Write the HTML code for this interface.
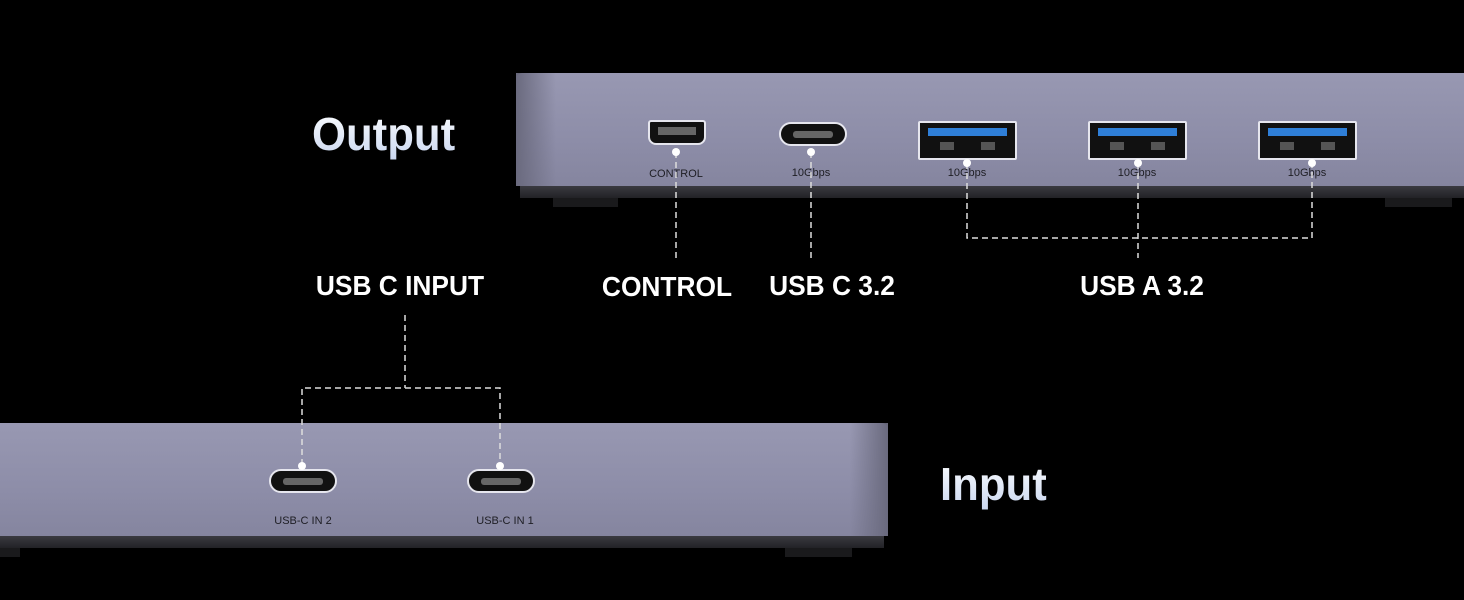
<!DOCTYPE html>
<html><head><meta charset="utf-8"><style>
body{margin:0;width:1464px;height:600px;background:#000;position:relative;overflow:hidden;font-family:"Liberation Sans",sans-serif}
.a{position:absolute}
.face{background:linear-gradient(180deg,#9898b2 0%,#8d8da8 60%,#85859f 100%)}
.base{background:linear-gradient(180deg,#3a3a40,#222226)}
.foot{background:#1a1a1c}
.lbl{color:#fff;font-weight:bold;font-size:28px;transform:translateX(-50%) scaleX(0.94);white-space:nowrap}
.big{font-weight:bold;font-size:46px;background:linear-gradient(180deg,#ffffff,#c9d6f0);-webkit-background-clip:text;color:transparent;transform:scaleX(0.95);transform-origin:left}
.sm{color:#1e1e24;font-size:11px;transform:translateX(-50%);white-space:nowrap}
.uc{background:#111;border:2px solid #e6e6ee;border-radius:13px;box-sizing:border-box}
.uc i{position:absolute;left:12px;right:12px;top:7px;height:7px;background:#666;border-radius:3px}
.ua{background:#111;border:2px solid #e6e6ee;box-sizing:border-box;border-radius:2px}
.ua b{position:absolute;left:8px;right:8px;top:5px;height:8px;background:#2f7fd8}
.ua s,.ua u{position:absolute;top:19px;width:14px;height:8px;background:#555}
.dot{width:8px;height:8px;border-radius:50%;background:#fff;transform:translate(-50%,-50%)}
svg{position:absolute;left:0;top:0}
</style></head><body>
<div class="a face" style="left:516px;top:73px;width:948px;height:113px;border-radius:6px 0 0 0"></div>
<div class="a" style="left:516px;top:73px;width:40px;height:113px;background:linear-gradient(90deg,#6a6a7e,rgba(150,150,170,0))"></div>
<div class="a base" style="left:520px;top:186px;width:944px;height:12px"></div>
<div class="a foot" style="left:553px;top:198px;width:65px;height:9px"></div>
<div class="a foot" style="left:1385px;top:198px;width:67px;height:9px"></div>
<div class="a" style="left:648px;top:120px;width:58px;height:25px;background:#111;border:2px solid #e6e6ee;box-sizing:border-box;border-radius:3px 3px 8px 8px"><i style="position:absolute;left:8px;right:8px;top:5px;height:8px;background:#666"></i></div>
<div class="a uc" style="left:779px;top:122px;width:68px;height:24px"><i></i></div>
<div class="a ua" style="left:918px;top:121px;width:99px;height:39px"><b></b><s style="left:20px"></s><u style="right:20px"></u></div>
<div class="a ua" style="left:1088px;top:121px;width:99px;height:39px"><b></b><s style="left:20px"></s><u style="right:20px"></u></div>
<div class="a ua" style="left:1258px;top:121px;width:99px;height:39px"><b></b><s style="left:20px"></s><u style="right:20px"></u></div>
<div class="a sm" style="left:676px;top:168px">CONTROL</div>
<div class="a sm" style="left:811px;top:167px">10Gbps</div>
<div class="a sm" style="left:967px;top:167px">10Gbps</div>
<div class="a sm" style="left:1137px;top:167px">10Gbps</div>
<div class="a sm" style="left:1307px;top:167px">10Gbps</div>
<div class="a face" style="left:0;top:423px;width:888px;height:113px;border-radius:0 6px 0 0"></div>
<div class="a" style="left:850px;top:423px;width:38px;height:113px;background:linear-gradient(90deg,rgba(150,150,170,0),#6a6a7e)"></div>
<div class="a base" style="left:0;top:536px;width:884px;height:12px"></div>
<div class="a foot" style="left:0;top:548px;width:20px;height:9px"></div>
<div class="a foot" style="left:785px;top:548px;width:67px;height:9px"></div>
<div class="a uc" style="left:269px;top:469px;width:68px;height:24px"><i></i></div>
<div class="a uc" style="left:467px;top:469px;width:68px;height:24px"><i></i></div>
<div class="a sm" style="left:303px;top:515px">USB-C IN 2</div>
<div class="a sm" style="left:505px;top:515px">USB-C IN 1</div>
<svg width="1464" height="600"><g stroke="#ddd" stroke-width="1.5" stroke-dasharray="6 4" fill="none">
<path d="M676 152V262M811 152V262M967 163V238H1312V163M1138 163V258"/>
<path d="M405 315V388M302 465V388H500V465"/></g></svg>
<div class="a dot" style="left:676px;top:152px"></div>
<div class="a dot" style="left:811px;top:152px"></div>
<div class="a dot" style="left:967px;top:163px"></div>
<div class="a dot" style="left:1138px;top:163px"></div>
<div class="a dot" style="left:1312px;top:163px"></div>
<div class="a dot" style="left:302px;top:466px"></div>
<div class="a dot" style="left:500px;top:466px"></div>
<div class="a big" style="left:312px;top:107px">Output</div>
<div class="a big" style="left:940px;top:457px">Input</div>
<div class="a lbl" style="left:667px;top:271px">CONTROL</div>
<div class="a lbl" style="left:832px;top:270px">USB C 3.2</div>
<div class="a lbl" style="left:1142px;top:270px">USB A 3.2</div>
<div class="a lbl" style="left:400px;top:270px">USB C INPUT</div>
</body></html>
